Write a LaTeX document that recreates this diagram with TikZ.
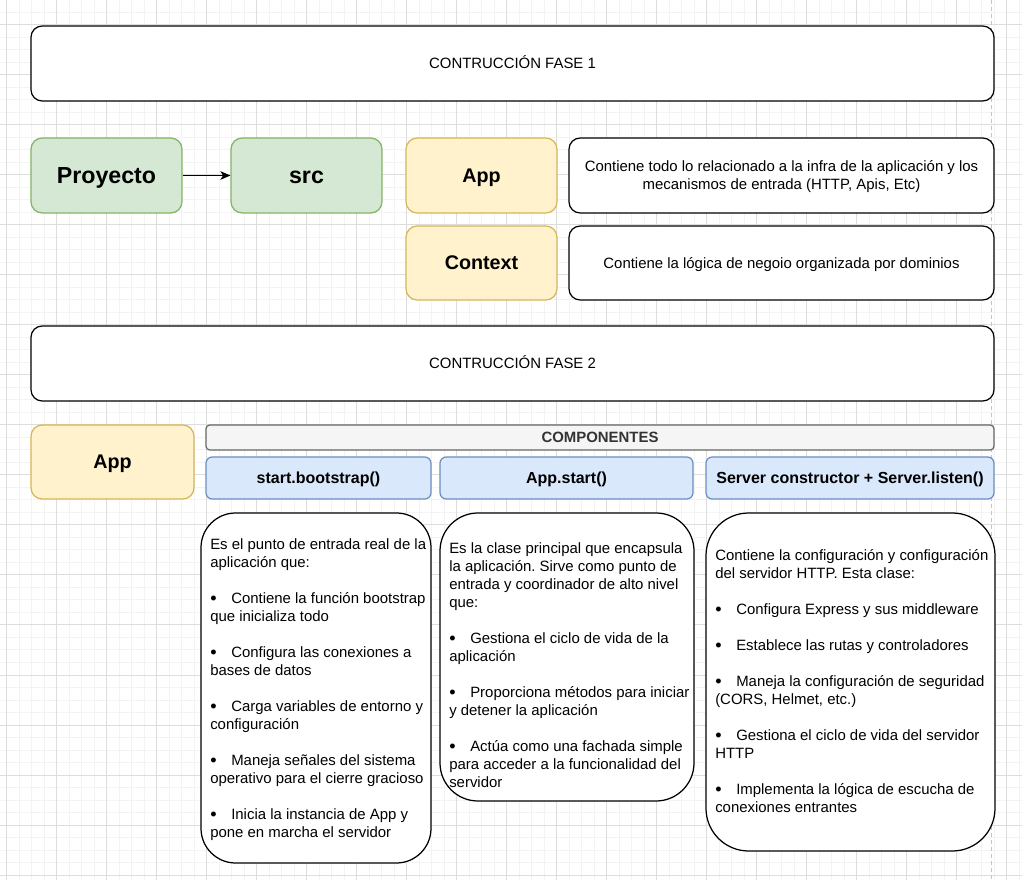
\documentclass[tikz,border=0pt]{standalone}
\usepackage{fontspec}
\setmainfont{Liberation Sans}
\usetikzlibrary{arrows.meta}
\frenchspacing
\definecolor{gfill}{HTML}{D5E8D4}
\definecolor{gline}{HTML}{82B366}
\definecolor{yfill}{HTML}{FFF2CC}
\definecolor{yline}{HTML}{D6B656}
\definecolor{bfill}{HTML}{DAE8FC}
\definecolor{bline}{HTML}{6C8EBF}
\definecolor{cfill}{HTML}{F5F5F5}
\definecolor{cline}{HTML}{666666}
\definecolor{ctext}{HTML}{333333}
\definecolor{minorc}{HTML}{F3F3F3}
\definecolor{majorc}{HTML}{DDDDDD}
\definecolor{pagec}{HTML}{C4C4C4}
\newcommand{\blt}{\makebox[15.75pt][l]{\raisebox{-0.4pt}{\fontsize{13.6}{13.5}\selectfont\textbullet}}}
\tikzset{
  boxbase/.style={draw, rounded corners=8.4pt, inner sep=0pt, line width=0.93pt},
  plainbox/.style={boxbase, fill=white, draw=black, text height=7.8pt, text depth=0pt,
    font=\fontsize{11.2}{13.5}\selectfont},
  greenbox/.style={boxbase, fill=gfill, draw=gline, text height=12.2pt, text depth=0pt,
    font=\fontsize{17.4}{20}\selectfont\bfseries},
  yellowbox/.style={boxbase, fill=yfill, draw=yline, text height=10.4pt, text depth=0pt,
    font=\fontsize{14.8}{17}\selectfont\bfseries},
  compbox/.style={boxbase, rounded corners=2.8pt, fill=cfill, draw=cline, text=ctext,
    text height=7.8pt, text depth=0pt, font=\fontsize{11.2}{13.5}\selectfont\bfseries},
  methbox/.style={boxbase, rounded corners=4.7pt, fill=bfill, draw=bline,
    text height=8.4pt, text depth=0pt, font=\fontsize{12}{14}\selectfont\bfseries},
  bigbox/.style={draw=black, fill=white, line width=0.93pt, inner sep=0pt},
  bodytext/.style={inner sep=0pt, anchor=base west, font=\fontsize{11.2}{13.5}\selectfont},
  desctext/.style={inner sep=0pt, anchor=base, font=\fontsize{11.2}{13.5}\selectfont},
  arrowline/.style={line width=0.93pt, -{Stealth[length=7.5pt,width=6.5pt,inset=2pt]}},
  minorgrid/.style={draw=minorc, line width=0.75pt},
  majorgrid/.style={draw=majorc, line width=0.75pt},
  pageline/.style={draw=pagec, line width=0.75pt, dash pattern=on 3pt off 2.25pt}
}
\begin{document}
\begin{tikzpicture}[x=0.75pt,y=-0.75pt]
\useasboundingbox[fill=white] (0,0) rectangle (1022,880);
% grid
\foreach \i in {0,...,81} \draw[minorgrid] ({6.7+12.5*\i},0) -- ({6.7+12.5*\i},880);
\foreach \j in {1,...,70} \draw[minorgrid] (0,{12.5*\j}) -- (1022,{12.5*\j});
\foreach \i in {0,...,20} \draw[majorgrid] ({6.7+50*\i},0) -- ({6.7+50*\i},880);
\foreach \j in {0,...,17} \draw[majorgrid] (0,{25+50*\j}) -- (1022,{25+50*\j});
\draw[pageline] (991,0) -- (991,880);

% phase 1
\node[plainbox, minimum width=722.25pt, minimum height=56.25pt] (fase1) at (512.5,63.5) {CONTRUCCIÓN FASE 1};
\node[greenbox, minimum width=113.25pt, minimum height=56.25pt] (proj) at (106.5,175.5) {Proyecto};
\node[greenbox, minimum width=113.25pt, minimum height=56.25pt] (src) at (306.5,175.5) {src};
\draw[arrowline] (proj.east) -- (src.west);
\node[yellowbox, minimum width=113.25pt, minimum height=56.25pt] (appa) at (481.5,175.5) {App};
\node[yellowbox, minimum width=113.25pt, minimum height=55.5pt] (ctx) at (481.5,263) {Context};
\node[plainbox, minimum width=318.75pt, minimum height=56.25pt] (desca) at (781.5,175.5) {};
\node[desctext] (descatext) at (781.5,171.5) {\parbox[t]{320pt}{\centering Contiene todo lo relacionado a la infra de la aplicación y los\\ mecanismos de entrada (HTTP, Apis, Etc)}};
\node[plainbox, minimum width=318.75pt, minimum height=55.5pt] (descb) at (781.5,263) {Contiene la lógica de negoio organizada por dominios};

% phase 2
\node[plainbox, minimum width=722.25pt, minimum height=56.25pt] (fase2) at (512.5,363.5) {CONTRUCCIÓN FASE 2};
\node[yellowbox, minimum width=122.25pt, minimum height=55.5pt] (appb) at (112.5,462) {App};
\node[compbox, minimum width=591pt, minimum height=18.75pt] (comp) at (600,437.5) {COMPONENTES};
\node[methbox, minimum width=168.75pt, minimum height=31.5pt] (ma) at (318.5,478) {start.bootstrap()};
\node[methbox, minimum width=189.75pt, minimum height=31.5pt] (mb) at (566.5,478) {App.start()};
\node[methbox, minimum width=216pt, minimum height=31.5pt] (mc) at (850,478) {Server constructor + Server.listen()};

\node[bigbox, rounded corners=26pt, minimum width=172.5pt, minimum height=262.5pt] (ta) at (316,688) {};
\node[bigbox, rounded corners=28.5pt, minimum width=190.5pt, minimum height=216pt] (tb) at (567,657) {};
\node[bigbox, rounded corners=32pt, minimum width=216.75pt, minimum height=253.5pt] (tc) at (850.5,682) {};

\node[bodytext] (tatext) at (210,550) {\parbox[t]{300pt}{\raggedright
Es el punto de entrada real de la\\
aplicación que:\\
\mbox{}\\
\blt Contiene la función bootstrap\\
que inicializa todo\\
\mbox{}\\
\blt Configura las conexiones a\\
bases de datos\\
\mbox{}\\
\blt Carga variables de entorno y\\
configuración\\
\mbox{}\\
\blt Maneja señales del sistema\\
operativo para el cierre gracioso\\
\mbox{}\\
\blt Inicia la instancia de App y\\
pone en marcha el servidor}};

\node[bodytext] (tbtext) at (449,554) {\parbox[t]{300pt}{\raggedright
Es la clase principal que encapsula\\
la aplicación. Sirve como punto de\\
entrada y coordinador de alto nivel\\
que:\\
\mbox{}\\
\blt Gestiona el ciclo de vida de la\\
aplicación\\
\mbox{}\\
\blt Proporciona métodos para iniciar\\
y detener la aplicación\\
\mbox{}\\
\blt Actúa como una fachada simple\\
para acceder a la funcionalidad del\\
servidor}};

\node[bodytext] (tctext) at (715,561) {\parbox[t]{300pt}{\raggedright
Contiene la configuración y configuración\\
del servidor HTTP. Esta clase:\\
\mbox{}\\
\blt Configura Express y sus middleware\\
\mbox{}\\
\blt Establece las rutas y controladores\\
\mbox{}\\
\blt Maneja la configuración de seguridad\\
(CORS, Helmet, etc.)\\
\mbox{}\\
\blt Gestiona el ciclo de vida del servidor\\
HTTP\\
\mbox{}\\
\blt Implementa la lógica de escucha de\\
conexiones entrantes}};
\end{tikzpicture}
\end{document}
